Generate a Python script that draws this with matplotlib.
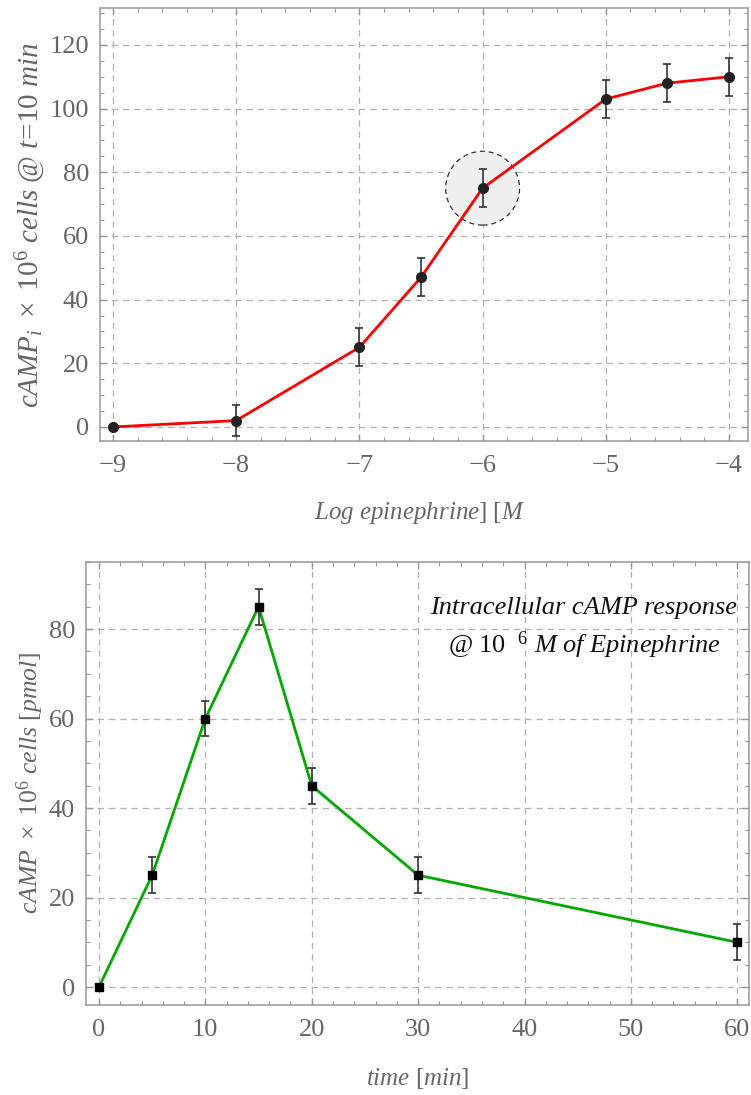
import numpy as np
import matplotlib
matplotlib.use('Agg')
import matplotlib.pyplot as plt
from matplotlib.patches import Ellipse
from matplotlib.ticker import MultipleLocator

# data: dose response (top)
log_epi = [-9, -8, -7, -6.5, -6, -5, -4.5, -4]
camp_dose = [0, 2, 25, 47, 75, 103, 108, 110]
camp_dose_err = [0, 5, 6, 6, 6, 6, 6, 6]

# data: time course (bottom)
time_min = [0, 5, 10, 15, 20, 30, 60]
camp_time = [0, 25, 60, 85, 45, 25, 10]
camp_time_err = [0, 4, 4, 4, 4, 4, 4]

plt.rcParams['font.family'] = ['Liberation Serif', 'DejaVu Serif']
plt.rcParams['mathtext.fontset'] = 'custom'
plt.rcParams['mathtext.it'] = 'Liberation Serif:italic'
plt.rcParams['mathtext.rm'] = 'Liberation Serif'
plt.rcParams['mathtext.bf'] = 'Liberation Serif:bold'

tick_col = '#666666'
spine_col = '#999999'
grid_col = '#b0b0b0'
lab_size = 18

fig = plt.figure(figsize=(7.51, 10.95), dpi=100)
ax1 = fig.add_axes([0.1332, 0.5973, 0.8628, 0.3954])
ax2 = fig.add_axes([0.1145, 0.0822, 0.8828, 0.4046])


def style(ax, xmaj, xmin, ymaj, ymin):
    ax.xaxis.set_major_locator(MultipleLocator(xmaj))
    ax.xaxis.set_minor_locator(MultipleLocator(xmin))
    ax.yaxis.set_major_locator(MultipleLocator(ymaj))
    ax.yaxis.set_minor_locator(MultipleLocator(ymin))
    ax.tick_params(which='both', direction='in', top=True, right=True,
                   color=spine_col, labelcolor=tick_col, labelsize=19)
    ax.tick_params(which='major', length=5, width=1)
    ax.tick_params(which='minor', length=3, width=0.8)
    ax.tick_params(axis='x', pad=10)
    ax.tick_params(axis='y', pad=8)
    for s in ax.spines.values():
        s.set_color(spine_col)
        s.set_linewidth(1.1)
    ax.grid(True, which='major', linestyle=(0, (5, 4)), color=grid_col, linewidth=0.9)
    ax.set_axisbelow(True)


# top panel
style(ax1, 1, 0.2, 20, 5)
ax1.set_xlim(-9.105, -3.846)
ax1.set_ylim(-4.4, 131.6)
ax1.add_patch(Ellipse((-6, 75), 0.6, 23.2, facecolor='#f0f0f0', edgecolor='#333333',
                      linestyle=(0, (4, 3)), linewidth=0.9, zorder=1.5))
ax1.plot(log_epi, camp_dose, color='#ff0000', linewidth=2, zorder=2)
ax1.errorbar(log_epi, camp_dose, yerr=camp_dose_err, fmt='none', ecolor='#333333',
             elinewidth=1.2, capsize=3, capthick=1.2, zorder=3)
ax1.plot(log_epi, camp_dose, 'o', color='#222222', markersize=7, zorder=4)
ax1.text(0.494, -0.166, r'$Log\ epinephrine\mathrm{]\ [}M$', transform=ax1.transAxes,
         ha='center', va='center', fontsize=lab_size, color=tick_col)
ax1.text(-0.108, 0.499, r'$cAMP_i\ \times\ 10^6\ cells\ @\ t\!=\!10\ min$',
         transform=ax1.transAxes, ha='center', va='center', rotation=90,
         fontsize=21, color=tick_col)

# bottom panel
style(ax2, 10, 2, 20, 5)
ax2.set_xlim(-1.22, 61.1)
ax2.set_ylim(-4.0, 95.0)
ax2.plot(time_min, camp_time, color='#00a800', linewidth=2, zorder=2)
ax2.errorbar(time_min, camp_time, yerr=camp_time_err, fmt='none', ecolor='#333333',
             elinewidth=1.2, capsize=3, capthick=1.2, zorder=3)
ax2.plot(time_min, camp_time, 's', color='black', markersize=6, zorder=4)
ax2.text(0.5, -0.165, r'$time\ \mathrm{[}min\mathrm{]}$', transform=ax2.transAxes,
         ha='center', va='center', fontsize=lab_size, color=tick_col)
ax2.text(-0.0845, 0.501, r'$cAMP\ \times\ 10^6\ cells\ \mathrm{[}pmol\mathrm{]}$',
         transform=ax2.transAxes, ha='center', va='center', rotation=90,
         fontsize=18.5, color=tick_col)
ax2.text(45.6, 80, 'Intracellular cAMP response\n' + r'$@\ 10\ \ {}^{6}\ M\ of\ Epinephrine$',
         ha='center', va='center', fontsize=19, style='italic',
         color='#111111', linespacing=1.45)

fig.savefig('out.png', dpi=100)
